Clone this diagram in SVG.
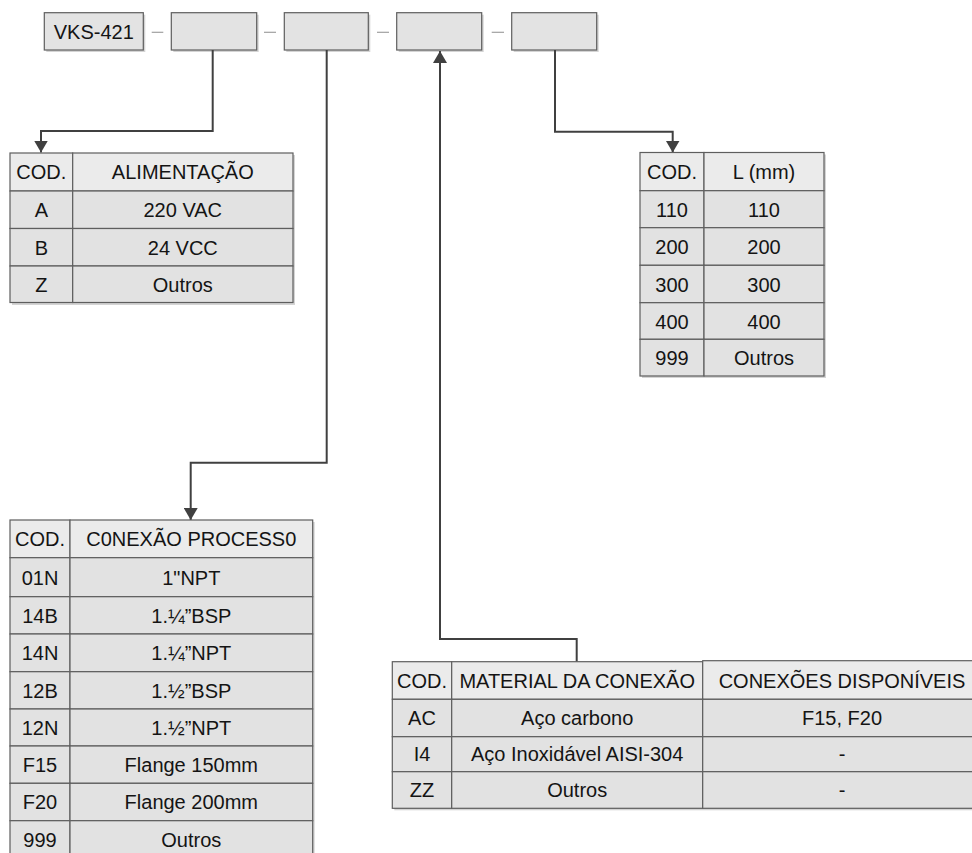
<svg xmlns="http://www.w3.org/2000/svg" width="972" height="853" viewBox="0 0 972 853">
<defs>
<marker id="ah" viewBox="0 0 12 14" refX="12" refY="7" markerWidth="12" markerHeight="14" markerUnits="userSpaceOnUse" orient="auto">
<path d="M0,0 L12,7 L0,14 z" fill="#404040"/>
</marker>
</defs>
<style>
.sh{fill:#d4d4d4;}
.h{fill:#ebebeb;stroke:#5e5e5e;stroke-width:1.2;}
.c{fill:#e2e2e2;stroke:#5e5e5e;stroke-width:1.2;}
.b{fill:#e3e3e3;stroke:#5e5e5e;stroke-width:1.2;}
.t{font-family:"Liberation Sans",Arial,sans-serif;font-size:20px;fill:#141414;text-anchor:middle;}
.d{stroke:#a0a0a0;stroke-width:1.2;}
.cn{fill:none;stroke:#404040;stroke-width:2;}
</style>
<rect width="972" height="853" fill="#ffffff"/>

<g id="header-code">
<g id="box-vks"><rect class="sh" x="46.3" y="14.7" width="99" height="37.3"/><rect class="b" x="44.3" y="12.7" width="99" height="37.3"/><text class="t" x="93.8" y="38.8">VKS-421</text></g>
<g id="box-2"><rect class="sh" x="173.3" y="14.7" width="85.4" height="37.3"/><rect class="b" x="171.3" y="12.7" width="85.4" height="37.3"/></g>
<g id="box-3"><rect class="sh" x="286.3" y="14.7" width="84" height="37.3"/><rect class="b" x="284.3" y="12.7" width="84" height="37.3"/></g>
<g id="box-4"><rect class="sh" x="398.7" y="14.7" width="85" height="37.3"/><rect class="b" x="396.7" y="12.7" width="85" height="37.3"/></g>
<g id="box-5"><rect class="sh" x="513.7" y="14.7" width="85" height="37.3"/><rect class="b" x="511.7" y="12.7" width="85" height="37.3"/></g>
<line class="d" x1="151.7" y1="32.3" x2="163.3" y2="32.3"/>
<line class="d" x1="264" y1="32.3" x2="276" y2="32.3"/>
<line class="d" x1="377" y1="32.3" x2="389" y2="32.3"/>
<line class="d" x1="491.7" y1="32.3" x2="504" y2="32.3"/>
</g>

<g id="connectors">
<path class="cn" d="M212.7 50 V131 H41 V152.5" marker-end="url(#ah)"/>
<path class="cn" d="M326.7 50 V462.7 H190.7 V520" marker-end="url(#ah)"/>
<path class="cn" d="M576.7 661.7 V639 H440 V51" marker-end="url(#ah)"/>
<path class="cn" d="M555 50 V131.7 H672.7 V152.5" marker-end="url(#ah)"/>
</g>

<g id="table-alimentacao">
<rect class="sh" x="12" y="155" width="283" height="150"/>
<rect class="h" x="10" y="153" width="62.7" height="38"/><rect class="h" x="72.7" y="153" width="220.3" height="38"/>
<rect class="c" x="10" y="191" width="62.7" height="37.5"/><rect class="c" x="72.7" y="191" width="220.3" height="37.5"/>
<rect class="c" x="10" y="228.5" width="62.7" height="37.5"/><rect class="c" x="72.7" y="228.5" width="220.3" height="37.5"/>
<rect class="c" x="10" y="266" width="62.7" height="36.5"/><rect class="c" x="72.7" y="266" width="220.3" height="36.5"/>
<text class="t" x="41.3" y="179">COD.</text><text class="t" x="182.8" y="179">ALIMENTAÇÃO</text>
<text class="t" x="41.3" y="217">A</text><text class="t" x="182.8" y="217">220 VAC</text>
<text class="t" x="41.3" y="254.5">B</text><text class="t" x="182.8" y="254.5">24 VCC</text>
<text class="t" x="41.3" y="291.5">Z</text><text class="t" x="182.8" y="291.5">Outros</text>
</g>

<g id="table-l">
<rect class="sh" x="642" y="154.5" width="184" height="223.5"/>
<rect class="h" x="640" y="152.5" width="64" height="38.2"/><rect class="h" x="704" y="152.5" width="120" height="38.2"/>
<rect class="c" x="640" y="190.7" width="64" height="37"/><rect class="c" x="704" y="190.7" width="120" height="37"/>
<rect class="c" x="640" y="227.7" width="64" height="37.6"/><rect class="c" x="704" y="227.7" width="120" height="37.6"/>
<rect class="c" x="640" y="265.3" width="64" height="37.4"/><rect class="c" x="704" y="265.3" width="120" height="37.4"/>
<rect class="c" x="640" y="302.7" width="64" height="36.6"/><rect class="c" x="704" y="302.7" width="120" height="36.6"/>
<rect class="c" x="640" y="339.3" width="64" height="36.7"/><rect class="c" x="704" y="339.3" width="120" height="36.7"/>
<text class="t" x="672" y="178.5">COD.</text><text class="t" x="764" y="178.5">L (mm)</text>
<text class="t" x="672" y="216.5">110</text><text class="t" x="764" y="216.5">110</text>
<text class="t" x="672" y="253.5">200</text><text class="t" x="764" y="253.5">200</text>
<text class="t" x="672" y="291.5">300</text><text class="t" x="764" y="291.5">300</text>
<text class="t" x="672" y="328.5">400</text><text class="t" x="764" y="328.5">400</text>
<text class="t" x="672" y="365">999</text><text class="t" x="764" y="365">Outros</text>
</g>

<g id="table-conexao-processo">
<rect class="sh" x="12" y="522" width="302.7" height="340"/>
<rect class="h" x="10" y="520" width="60" height="37.7"/><rect class="h" x="70" y="520" width="242.7" height="37.7"/>
<rect class="c" x="10" y="557.7" width="60" height="39"/><rect class="c" x="70" y="557.7" width="242.7" height="39"/>
<rect class="c" x="10" y="596.7" width="60" height="37.3"/><rect class="c" x="70" y="596.7" width="242.7" height="37.3"/>
<rect class="c" x="10" y="634" width="60" height="37.7"/><rect class="c" x="70" y="634" width="242.7" height="37.7"/>
<rect class="c" x="10" y="671.7" width="60" height="37.3"/><rect class="c" x="70" y="671.7" width="242.7" height="37.3"/>
<rect class="c" x="10" y="709" width="60" height="37"/><rect class="c" x="70" y="709" width="242.7" height="37"/>
<rect class="c" x="10" y="746" width="60" height="37.3"/><rect class="c" x="70" y="746" width="242.7" height="37.3"/>
<rect class="c" x="10" y="783.3" width="60" height="37.4"/><rect class="c" x="70" y="783.3" width="242.7" height="37.4"/>
<rect class="c" x="10" y="820.7" width="60" height="38"/><rect class="c" x="70" y="820.7" width="242.7" height="38"/>
<text class="t" x="40" y="546">COD.</text><text class="t" x="191.3" y="546">C0NEXÃO PROCESS0</text>
<text class="t" x="40" y="584.5">01N</text><text class="t" x="191.3" y="584.5">1"NPT</text>
<text class="t" x="40" y="622.5">14B</text><text class="t" x="191.3" y="622.5">1.¼”BSP</text>
<text class="t" x="40" y="660">14N</text><text class="t" x="191.3" y="660">1.¼”NPT</text>
<text class="t" x="40" y="697.5">12B</text><text class="t" x="191.3" y="697.5">1.½”BSP</text>
<text class="t" x="40" y="734.5">12N</text><text class="t" x="191.3" y="734.5">1.½”NPT</text>
<text class="t" x="40" y="771.5">F15</text><text class="t" x="191.3" y="771.5">Flange 150mm</text>
<text class="t" x="40" y="809">F20</text><text class="t" x="191.3" y="809">Flange 200mm</text>
<text class="t" x="40" y="846.5">999</text><text class="t" x="191.3" y="846.5">Outros</text>
</g>

<g id="table-material">
<rect class="sh" x="394.3" y="663.7" width="590" height="146.6"/>
<rect class="h" x="392.3" y="661.7" width="59.4" height="37.6"/><rect class="h" x="451.7" y="661.7" width="251" height="37.6"/><rect class="h" x="702.7" y="660.7" width="278.3" height="38.6"/>
<rect class="c" x="392.3" y="699.3" width="59.4" height="37.4"/><rect class="c" x="451.7" y="699.3" width="251" height="37.4"/><rect class="c" x="702.7" y="699.3" width="278.3" height="37.4"/>
<rect class="c" x="392.3" y="736.7" width="59.4" height="35"/><rect class="c" x="451.7" y="736.7" width="251" height="35"/><rect class="c" x="702.7" y="736.7" width="278.3" height="35"/>
<rect class="c" x="392.3" y="771.7" width="59.4" height="36.6"/><rect class="c" x="451.7" y="771.7" width="251" height="36.6"/><rect class="c" x="702.7" y="771.7" width="278.3" height="36.6"/>
<text class="t" x="422" y="687.5">COD.</text><text class="t" x="577.2" y="687.5">MATERIAL DA CONEXÃO</text><text class="t" x="842" y="687.5">CONEXÕES DISPONÍVEIS</text>
<text class="t" x="422" y="725">AC</text><text class="t" x="577.2" y="725">Aço carbono</text><text class="t" x="842" y="725">F15, F20</text>
<text class="t" x="422" y="761">I4</text><text class="t" x="577.2" y="761">Aço Inoxidável AISI-304</text><text class="t" x="842" y="761">-</text>
<text class="t" x="422" y="797">ZZ</text><text class="t" x="577.2" y="797">Outros</text><text class="t" x="842" y="797">-</text>
</g>
</svg>
